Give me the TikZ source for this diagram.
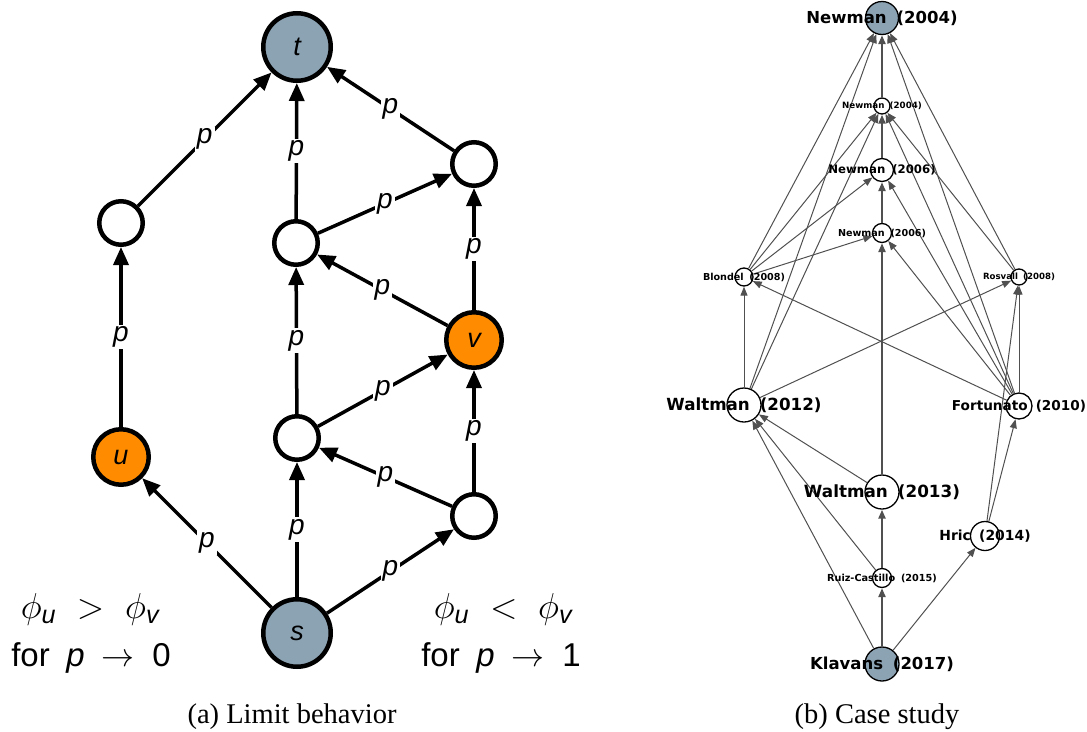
\RequirePackage{fix-cm}
\documentclass[tikz,border=0pt]{standalone}
\usepackage{amsmath}
\usepackage{fontspec}
\setmainfont{Liberation Serif}
\setsansfont{Liberation Sans}
\newfontfamily\graphfont{DejaVu Sans}
\usetikzlibrary{arrows.meta}

\definecolor{slate}{RGB}{140,163,180}
\definecolor{tangerine}{RGB}{255,140,0}
\definecolor{edgegray}{RGB}{80,80,80}

\newcommand\setfs[1]{\fontsize{#1}{#1}\selectfont}
\newcommand\gsp{\hspace{0.25em}}
\newcommand\svar[1]{\textsf{\itshape #1}}

\tikzset{
  % left graph: random walk with edge probability p
  lnode/.style={circle, draw=black, line width=4.5pt, fill=white, inner sep=0pt,
                minimum size=43.5pt, font=\setfs{27}\sffamily\itshape},
  lend/.style={lnode, fill=slate, minimum size=67.5pt},
  lmark/.style={lnode, fill=tangerine, minimum size=55.5pt},
  ledge/.style={line width=3.5pt, -{Triangle[length=18pt,width=15pt]}},
  plabel/.style={fill=white, inner sep=2pt, font=\setfs{28}\sffamily\itshape},
  cond/.style={anchor=base, inner sep=0pt},
  caption/.style={anchor=base, inner sep=0pt, font=\setfs{28.5}\rmfamily},
  % right graph: citation network
  rnode/.style={circle, draw=black, line width=1.3pt, fill=white, inner sep=0pt},
  rend/.style={rnode, fill=slate},
  redge/.style={draw=edgegray, line width=1pt, -{Triangle[length=9pt,width=7pt]}},
  rmain/.style={redge, line width=2.2pt},
  rtext/.style={inner sep=0pt, font=\graphfont\bfseries},
}

\begin{document}
\begin{tikzpicture}[x=1pt, y=-1pt]
\useasboundingbox (0,0) rectangle (1087,731);

% ---------------- (a) limit behavior ----------------
\node[lend]  (t)  at (297,47)  {t};
\node[lnode] (a)  at (121,223) {};
\node[lmark] (u)  at (121,457) {u};
\node[lnode] (m1) at (296,243) {};
\node[lnode] (m2) at (297,438) {};
\node[lnode] (r1) at (474,164) {};
\node[lmark] (v)  at (474,340) {v};
\node[lnode] (r2) at (474,516) {};
\node[lend]  (s)  at (297,633) {s};

\draw[ledge] (a)  -- node[plabel] {p} (t);
\draw[ledge] (m1) -- node[plabel] {p} (t);
\draw[ledge] (r1) -- node[plabel] {p} (t);
\draw[ledge] (u)  -- node[plabel] {p} (a);
\draw[ledge] (m1) -- node[plabel] {p} (r1);
\draw[ledge] (v)  -- node[plabel] {p} (m1);
\draw[ledge] (v)  -- node[plabel] {p} (r1);
\draw[ledge] (m2) -- node[plabel] {p} (m1);
\draw[ledge] (m2) -- node[plabel] {p} (v);
\draw[ledge] (r2) -- node[plabel] {p} (m2);
\draw[ledge] (r2) -- node[plabel] {p} (v);
\draw[ledge] (s)  -- node[plabel] {p} (u);
\draw[ledge] (s)  -- node[plabel] {p} (m2);
\draw[ledge] (s)  -- node[plabel] {p} (r2);

\node[cond, font=\setfs{36}] (lowphi) at (90,618)
  {$\phi_{\svar{u}}\hspace{0.3em}>\hspace{0.3em}\phi_{\svar{v}}$};
\node[cond, font=\setfs{33}\sffamily] (lowp) at (91,666)
  {for\hspace{0.5em}\svar{p}\hspace{0.5em}$\to$\hspace{0.55em}0};
\node[cond, font=\setfs{36}] (highphi) at (503,618)
  {$\phi_{\svar{u}}\hspace{0.3em}<\hspace{0.3em}\phi_{\svar{v}}$};
\node[cond, font=\setfs{33}\sffamily] (highp) at (501,666)
  {for\hspace{0.5em}\svar{p}\hspace{0.5em}$\to$\hspace{0.55em}1};

\node[caption] (capa) at (292,723) {(a) Limit behavior};

% ---------------- (b) case study ----------------
\node[rend,  minimum size=33pt] (n04t) at (882,18)  {};
\node[rnode, minimum size=16pt] (n04)  at (882,106) {};
\node[rnode, minimum size=23pt] (n06a) at (882,170) {};
\node[rnode, minimum size=19pt] (n06b) at (882,233) {};
\node[rnode, minimum size=18pt] (bl)   at (744,277) {};
\node[rnode, minimum size=16pt] (ro)   at (1019,277) {};
\node[rnode, minimum size=34pt] (w12)  at (744,405) {};
\node[rnode, minimum size=26pt] (fo)   at (1019,406) {};
\node[rnode, minimum size=34pt] (w13)  at (882,492) {};
\node[rnode, minimum size=29pt] (hr)   at (985,536) {};
\node[rnode, minimum size=19pt] (rc)   at (882,578) {};
\node[rend,  minimum size=34pt] (kl)   at (882,664) {};

% main chain
\draw[rmain] (kl)   -- (rc);
\draw[rmain] (rc)   -- (w13);
\draw[rmain] (w13)  -- (n06b);
\draw[rmain] (n06b) -- (n06a);
\draw[rmain] (n06a) -- (n04);
\draw[rmain] (n04)  -- (n04t);

% other citations
\draw[redge] (kl)  -- (w12);
\draw[redge] (kl)  -- (hr);
\draw[redge] (rc)  -- (w12);
\draw[redge] (w13) -- (w12);
\draw[redge] (hr)  -- (fo);
\draw[redge] (hr)  -- (ro);
\draw[redge] (w12) -- (bl);
\draw[redge] (w12) -- (ro);
\draw[redge] (w12) -- (n04t);
\draw[redge] (w12) -- (n04);
\draw[redge] (fo)  -- (bl);
\draw[redge] (fo)  -- (ro);
\draw[redge] (fo)  -- (n04t);
\draw[redge] (fo)  -- (n04);
\draw[redge] (fo)  -- (n06a);
\draw[redge] (fo)  -- (n06b);
\draw[redge] (bl)  -- (n04t);
\draw[redge] (bl)  -- (n04);
\draw[redge] (bl)  -- (n06a);
\draw[redge] (bl)  -- (n06b);
\draw[redge] (ro)  -- (n04t);
\draw[redge] (ro)  -- (n04);

% paper labels on top
\node[rtext, font=\graphfont\bfseries\setfs{16.5}] (n04t-l) at (n04t) {Newman\gsp{} (2004)};
\node[rtext, font=\graphfont\bfseries\setfs{8.7}]  (n04-l)  at (n04)  {Newman\gsp{} (2004)};
\node[rtext, font=\graphfont\bfseries\setfs{11.7}] (n06a-l) at (n06a) {Newman\gsp{} (2006)};
\node[rtext, font=\graphfont\bfseries\setfs{9.6}]  (n06b-l) at (n06b) {Newman\gsp{} (2006)};
\node[rtext, font=\graphfont\bfseries\setfs{9.6}]  (bl-l)   at (bl)   {Blondel\gsp{} (2008)};
\node[rtext, font=\graphfont\bfseries\setfs{8.6}]  (ro-l)   at (ro)   {Rosvall\gsp{} (2008)};
\node[rtext, font=\graphfont\bfseries\setfs{16.7}] (w12-l)  at (w12)  {Waltman\gsp{} (2012)};
\node[rtext, font=\graphfont\bfseries\setfs{13.6}] (fo-l)   at (fo)   {Fortunato\gsp{} (2010)};
\node[rtext, font=\graphfont\bfseries\setfs{16.8}] (w13-l)  at (w13)  {Waltman\gsp{} (2013)};
\node[rtext, font=\graphfont\bfseries\setfs{13.9}] (hr-l)   at (hr)   {Hric\gsp{} (2014)};
\node[rtext, font=\graphfont\bfseries\setfs{9.7}]  (rc-l)   at (rc)   {Ruiz-Castillo\gsp{} (2015)};
\node[rtext, font=\graphfont\bfseries\setfs{16.5}] (kl-l)   at (kl)   {Klavans\gsp{} (2017)};

\node[caption] (capb) at (877,723) {(b) Case study};
\end{tikzpicture}
\end{document}
